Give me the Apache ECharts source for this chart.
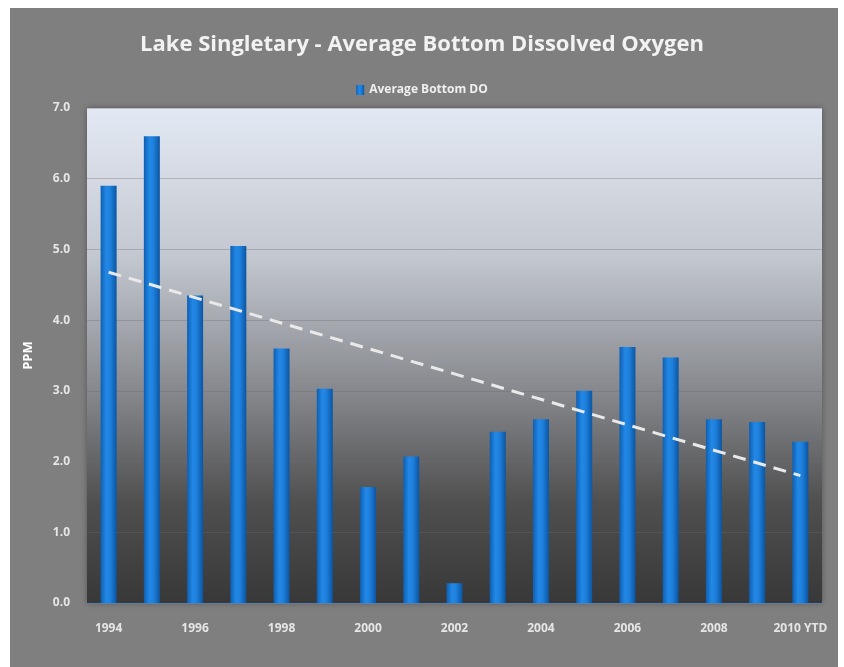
<!DOCTYPE html>
<html lang="en">
<head>
    <meta charset="UTF-8">
    <title>Lake Singletary</title>
    <script src="https://cdn.jsdelivr.net/npm/echarts/dist/echarts.min.js"></script>
    <style>
        html, body { margin: 0; padding: 0; background: #ffffff; }
        #main { width: 844px; height: 667px; }
    </style>
</head>
<body>
    <div id="main"></div>
    <script>
        // values
        var years = ['1994', '1995', '1996', '1997', '1998', '1999', '2000', '2001', '2002',
            '2003', '2004', '2005', '2006', '2007', '2008', '2009', '2010 YTD'];
        var avgBottomDO = [5.9, 6.6, 4.35, 5.05, 3.6, 3.03, 1.64, 2.07, 0.28,
            2.42, 2.6, 3.0, 3.62, 3.47, 2.6, 2.56, 2.28];

        // linear trend line (least squares) over the data
        var n = avgBottomDO.length, sx = 0, sy = 0, sxy = 0, sxx = 0;
        avgBottomDO.forEach(function (v, i) { sx += i; sy += v; sxy += i * v; sxx += i * i; });
        var slope = (n * sxy - sx * sy) / (n * sxx - sx * sx);
        var icpt = (sy - slope * sx) / n;
        var trend = years.map(function (y, i) {
            return (i === 0 || i === n - 1) ? +(icpt + slope * i).toFixed(3) : null;
        });

        var font = '"Open Sans", "DejaVu Sans", sans-serif';
        var chart = echarts.init(document.getElementById('main'));
        chart.setOption({
            animation: false,
            backgroundColor: '#ffffff',
            graphic: [{
                type: 'rect', z: -10, silent: true,
                shape: { x: 10, y: 8, width: 828, height: 670 },
                style: { fill: '#7f7f7f' }
            }],
            title: {
                text: 'Lake Singletary - Average Bottom Dissolved Oxygen',
                left: 'center', top: 29,
                textStyle: { color: '#f2f2f2', fontSize: 22, fontWeight: 'bold', fontFamily: font }
            },
            legend: {
                top: 79, left: 'center',
                data: [{ name: 'Average Bottom DO', icon: 'rect' }],
                itemWidth: 8, itemHeight: 10, itemGap: 4,
                textStyle: { color: '#f0f0f0', fontSize: 12, fontWeight: 'bold', fontFamily: font }
            },
            grid: {
                left: 87, right: 22, top: 108, bottom: 64,
                show: true, borderWidth: 0,
                shadowBlur: 6, shadowColor: 'rgba(0,0,0,0.35)',
                backgroundColor: {
                    type: 'linear', x: 0, y: 0, x2: 0, y2: 1,
                    colorStops: [
                        { offset: 0, color: '#e3e9f4' },
                        { offset: 0.3, color: '#c3c7cf' },
                        { offset: 0.58, color: '#84868b' },
                        { offset: 0.8, color: '#4f4f4f' },
                        { offset: 1, color: '#383838' }
                    ]
                }
            },
            xAxis: {
                type: 'category',
                data: years,
                axisLine: { show: true, lineStyle: { color: '#5a7fa8', width: 1 } },
                axisTick: { show: false },
                axisLabel: {
                    interval: 1, margin: 20,
                    color: '#e6e6e6', fontSize: 12, fontWeight: 'bold', fontFamily: font
                }
            },
            yAxis: {
                type: 'value',
                min: 0, max: 7, interval: 1,
                name: 'PPM', nameLocation: 'middle', nameGap: 52, nameRotate: 90,
                nameTextStyle: { color: '#ffffff', fontSize: 13, fontWeight: 'bold', fontFamily: font },
                axisLine: { show: false },
                axisTick: { show: false },
                axisLabel: {
                    margin: 17,
                    formatter: function (v) { return v.toFixed(1); },
                    color: '#e6e6e6', fontSize: 12, fontWeight: 'bold', fontFamily: font
                },
                splitLine: { lineStyle: { color: 'rgba(110,110,115,0.35)', width: 1 } }
            },
            series: [{
                name: 'Average Bottom DO',
                type: 'bar',
                data: avgBottomDO,
                barWidth: 16,
                itemStyle: {
                    color: {
                        type: 'linear', x: 0, y: 0, x2: 1, y2: 0,
                        colorStops: [
                            { offset: 0, color: '#0e5fb2' },
                            { offset: 0.35, color: '#2288e6' },
                            { offset: 0.6, color: '#1e80dc' },
                            { offset: 1, color: '#0b55a2' }
                        ]
                    }
                }
            }, {
                name: 'Trend',
                type: 'line',
                data: trend,
                connectNulls: true,
                symbol: 'none',
                lineStyle: { color: '#e9e9e9', width: 3, type: [13, 8] },
                z: 5
            }]
        });
    </script>
</body>
</html>
